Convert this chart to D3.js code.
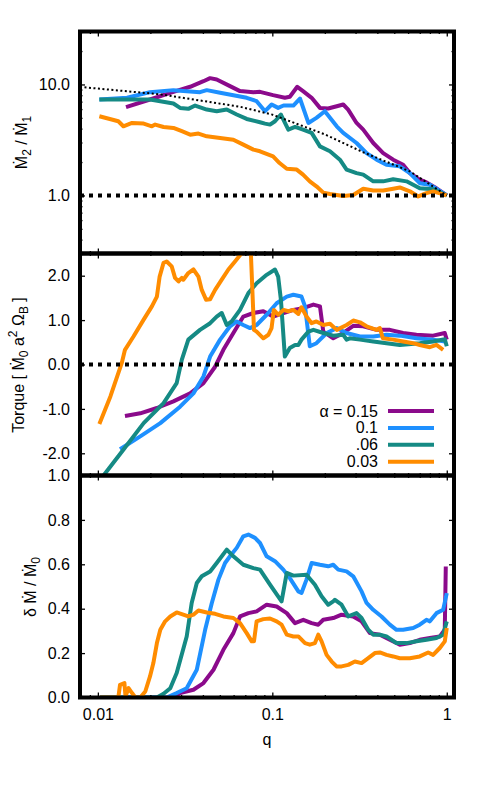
<!DOCTYPE html>
<html>
<head>
<meta charset="utf-8">
<script src="https://cdn.jsdelivr.net/npm/d3@7"></script>
<style>
body { margin: 0; background: #fff; }
text { font-family: "Liberation Sans", Arial, sans-serif; fill: #000; }
</style>
</head>
<body>
<div id="chart"></div>
<script>
// legend / series
var alphaLabels = ["\u03b1 = 0.15", "0.1", ".06", "0.03"];
var colors = ["#8b0a8b", "#1e90ff", "#158a84", "#ff8c00"];

// top panel: Mdot2 / Mdot1 against q
var ratio015 = [[0.0145,6.24],[0.0199,7.32],[0.026,8.41],[0.0338,9.53],[0.0403,10.7],[0.044,11.4],[0.048,11.1],[0.0572,9.66],[0.0653,8.71],[0.0779,8.52],[0.085,8.58],[0.101,8.01],[0.118,7.58],[0.126,7.74],[0.139,9.53],[0.15,8.71],[0.168,7.58],[0.1875,6.15],[0.209,6.07],[0.234,6.37],[0.255,6.6],[0.272,5.94],[0.304,4.5],[0.332,3.92],[0.379,2.97],[0.432,2.41],[0.493,2.1],[0.562,1.89],[0.614,1.59],[0.7,1.39],[0.765,1.31],[0.873,1.16],[1.0,1.0]];
var ratio01 = [[0.0102,7.32],[0.0147,7.58],[0.0199,8.52],[0.0271,8.89],[0.0385,8.52],[0.0421,8.89],[0.0502,8.41],[0.0713,7.58],[0.0813,7.07],[0.0908,5.74],[0.0991,6.6],[0.108,6.15],[0.116,6.46],[0.132,6.46],[0.144,7.47],[0.161,4.5],[0.179,5.0],[0.2,5.74],[0.234,4.2],[0.255,3.66],[0.304,2.97],[0.347,2.41],[0.396,2.1],[0.451,1.89],[0.538,1.83],[0.614,1.59],[0.7,1.29],[0.8,1.25],[1.0,1.0]];
var ratio006 = [[0.0102,7.32],[0.0147,7.32],[0.0199,7.32],[0.0228,7.07],[0.0271,6.73],[0.0296,6.15],[0.033,6.03],[0.0361,6.46],[0.0421,5.94],[0.048,5.74],[0.0548,5.94],[0.0625,5.36],[0.0713,4.89],[0.085,4.57],[0.0908,4.44],[0.097,4.35],[0.1036,4.66],[0.112,5.36],[0.1235,3.92],[0.135,4.14],[0.15,3.92],[0.168,3.66],[0.1875,2.77],[0.214,2.5],[0.244,2.1],[0.2665,1.71],[0.304,1.59],[0.332,1.54],[0.379,1.34],[0.432,1.34],[0.493,1.4],[0.588,1.34],[0.7,1.16],[0.835,1.14],[1.0,1.0]];
var ratio003 = [[0.0102,5.17],[0.0131,4.66],[0.014,4.2],[0.0157,4.5],[0.0183,4.44],[0.0204,4.2],[0.0213,4.35],[0.0238,4.14],[0.0271,4.06],[0.0303,3.79],[0.0338,3.53],[0.0377,3.61],[0.0421,3.41],[0.0502,3.3],[0.0598,3.18],[0.0682,2.87],[0.0779,2.59],[0.085,2.5],[0.101,2.25],[0.11,1.96],[0.121,1.74],[0.138,1.71],[0.15,1.54],[0.164,1.34],[0.179,1.21],[0.196,1.06],[0.214,1.03],[0.255,0.99],[0.291,1.01],[0.332,1.15],[0.379,1.11],[0.432,1.11],[0.493,1.15],[0.538,1.18],[0.614,1.09],[0.686,0.98],[0.765,1.05],[0.835,1.09],[1.0,1.0]];
var ratioGuide = [[0.0079,9.5],[0.0228,8.15],[0.0653,6.3],[0.1,5.35],[0.2,3.55],[0.332,2.45],[0.614,1.65],[1.0,1.0]];

// middle panel: torque
var torque015 = [[0.0143,-1.16],[0.0175,-1.1],[0.0218,-0.98],[0.0271,-0.83],[0.0338,-0.65],[0.0403,-0.42],[0.047,-0.05],[0.0524,0.33],[0.0598,0.71],[0.0682,1.08],[0.0779,1.16],[0.0888,1.2],[0.101,1.08],[0.116,1.16],[0.132,1.23],[0.15,1.27],[0.172,1.35],[0.1875,1.31],[0.196,0.74],[0.2235,0.59],[0.255,0.71],[0.291,0.87],[0.332,0.86],[0.396,0.78],[0.472,0.78],[0.562,0.71],[0.67,0.67],[0.835,0.65],[0.974,0.71],[1.0,0.56]];
var torque01 = [[0.0134,-1.91],[0.0175,-1.62],[0.0228,-1.32],[0.0296,-0.95],[0.0353,-0.65],[0.0403,-0.27],[0.044,0.18],[0.0502,0.56],[0.0572,0.86],[0.0625,0.97],[0.0682,0.89],[0.0745,0.82],[0.0813,0.89],[0.0928,1.12],[0.1059,1.38],[0.121,1.53],[0.132,1.57],[0.147,1.53],[0.154,1.31],[0.164,0.41],[0.179,0.48],[0.205,0.71],[0.234,0.82],[0.2665,0.71],[0.318,0.63],[0.379,0.63],[0.451,0.67],[0.538,0.65],[0.67,0.59],[0.835,0.56],[0.974,0.52]];
var torque006 = [[0.0103,-2.6],[0.014,-1.92],[0.0183,-1.32],[0.0238,-0.87],[0.0283,-0.42],[0.0303,0.11],[0.033,0.56],[0.0385,0.78],[0.044,0.93],[0.048,1.08],[0.0513,1.16],[0.0548,0.89],[0.0585,0.97],[0.0653,1.23],[0.0729,1.61],[0.0813,1.83],[0.0928,2.02],[0.1036,2.14],[0.108,1.98],[0.112,1.46],[0.118,0.18],[0.126,0.37],[0.135,0.44],[0.141,0.44],[0.147,0.56],[0.161,0.74],[0.172,0.78],[0.196,0.71],[0.2235,0.65],[0.255,0.67],[0.2665,0.56],[0.278,0.59],[0.318,0.56],[0.379,0.52],[0.451,0.48],[0.538,0.44],[0.7,0.48],[0.835,0.52],[0.974,0.57],[1.0,0.41]];
var torque003 = [[0.0102,-1.34],[0.0118,-0.72],[0.0137,0.03],[0.0143,0.33],[0.016,0.63],[0.0183,1.01],[0.0204,1.31],[0.0218,1.53],[0.0226,1.98],[0.0238,2.29],[0.0248,2.32],[0.0265,2.21],[0.0277,1.95],[0.029,1.87],[0.0303,1.95],[0.0309,1.91],[0.033,2.06],[0.0353,2.14],[0.0377,1.98],[0.0394,1.68],[0.0417,1.46],[0.044,1.47],[0.047,1.68],[0.0513,1.91],[0.056,2.14],[0.0611,2.32],[0.0668,2.51],[0.0713,2.66],[0.075,2.7],[0.0785,0.78],[0.0813,0.74],[0.0888,0.59],[0.095,0.67],[0.099,0.82],[0.102,1.23],[0.108,1.12],[0.116,1.23],[0.1235,1.2],[0.132,1.23],[0.141,1.14],[0.147,1.29],[0.157,1.08],[0.168,0.93],[0.179,0.97],[0.196,0.89],[0.214,0.92],[0.234,0.78],[0.2665,0.89],[0.291,0.99],[0.318,0.95],[0.347,0.86],[0.396,0.78],[0.4135,0.82],[0.43,0.59],[0.493,0.56],[0.562,0.52],[0.642,0.48],[0.7,0.44],[0.8,0.39],[0.873,0.44],[0.953,0.33]];

// bottom panel: delta Mdot / Mdot0
var dmdot015 = [[0.0145,0],[0.0271,0],[0.0296,0.02],[0.0353,0.035],[0.0403,0.065],[0.046,0.125],[0.0524,0.215],[0.0598,0.29],[0.0653,0.365],[0.0729,0.38],[0.0813,0.388],[0.0928,0.418],[0.1059,0.41],[0.121,0.38],[0.1349,0.335],[0.1505,0.35],[0.168,0.335],[0.1834,0.328],[0.1959,0.35],[0.2235,0.358],[0.2494,0.373],[0.2909,0.365],[0.3247,0.343],[0.3625,0.29],[0.4135,0.283],[0.4717,0.26],[0.5383,0.238],[0.6141,0.245],[0.7,0.26],[0.8,0.268],[0.912,0.275],[0.974,0.305],[0.987,0.59]];
var dmdot01 = [[0.0103,0],[0.0248,0],[0.0283,0.02],[0.0323,0.042],[0.0369,0.125],[0.0412,0.305],[0.045,0.426],[0.0491,0.531],[0.0536,0.606],[0.0572,0.636],[0.0625,0.674],[0.0682,0.726],[0.0729,0.734],[0.0796,0.719],[0.085,0.696],[0.0928,0.636],[0.1036,0.614],[0.1156,0.576],[0.126,0.538],[0.141,0.478],[0.147,0.471],[0.157,0.531],[0.168,0.606],[0.1875,0.598],[0.209,0.591],[0.2235,0.598],[0.2387,0.576],[0.2665,0.568],[0.2909,0.546],[0.3247,0.478],[0.347,0.426],[0.3787,0.395],[0.4227,0.365],[0.4717,0.328],[0.5151,0.305],[0.5623,0.305],[0.6417,0.313],[0.7,0.328],[0.765,0.35],[0.8,0.343],[0.873,0.38],[0.953,0.395],[1.0,0.47]];
var dmdot006 = [[0.0103,0],[0.0218,0],[0.0238,0.017],[0.026,0.042],[0.0283,0.11],[0.0323,0.275],[0.0345,0.426],[0.0369,0.516],[0.0394,0.546],[0.044,0.568],[0.048,0.606],[0.0548,0.666],[0.0598,0.636],[0.0682,0.598],[0.0779,0.583],[0.085,0.576],[0.097,0.508],[0.113,0.433],[0.121,0.561],[0.132,0.549],[0.157,0.553],[0.1755,0.508],[0.1916,0.456],[0.209,0.418],[0.2235,0.433],[0.2285,0.44],[0.2494,0.418],[0.2724,0.365],[0.304,0.38],[0.3247,0.358],[0.3546,0.305],[0.3787,0.283],[0.4135,0.283],[0.4514,0.275],[0.5151,0.245],[0.5876,0.245],[0.6706,0.253],[0.765,0.26],[0.873,0.268],[0.953,0.283],[1.0,0.343]];
var dmdot003 = [[0.0103,0],[0.0131,0],[0.0134,0.057],[0.0142,0.065],[0.0144,0.005],[0.015,0.042],[0.0157,0.02],[0.0164,0],[0.0175,0],[0.0187,0.027],[0.0199,0.095],[0.0208,0.155],[0.0218,0.245],[0.0228,0.305],[0.0243,0.343],[0.026,0.365],[0.0283,0.383],[0.033,0.365],[0.0353,0.373],[0.0377,0.392],[0.0421,0.383],[0.047,0.377],[0.0524,0.365],[0.0598,0.358],[0.0653,0.335],[0.0713,0.29],[0.0762,0.253],[0.0785,0.253],[0.0813,0.343],[0.0888,0.353],[0.097,0.356],[0.1059,0.343],[0.113,0.328],[0.121,0.283],[0.132,0.275],[0.141,0.275],[0.154,0.245],[0.164,0.238],[0.1755,0.245],[0.1834,0.283],[0.1916,0.253],[0.2047,0.192],[0.219,0.162],[0.2335,0.14],[0.2494,0.14],[0.2724,0.147],[0.2974,0.162],[0.3247,0.155],[0.3546,0.177],[0.3871,0.2],[0.4135,0.203],[0.4514,0.192],[0.4929,0.185],[0.5383,0.177],[0.6141,0.177],[0.7,0.185],[0.782,0.203],[0.835,0.192],[0.912,0.223],[0.974,0.253],[1.0,0.313]];

// ticks
var qTicks = [0.01, 0.1, 1];
var qTickLabels = ["0.01", "0.1", "1"];
var qMinor = [0.008, 0.009, 0.02, 0.03, 0.04, 0.05, 0.06, 0.07, 0.08, 0.09, 0.2, 0.3, 0.4, 0.5, 0.6, 0.7, 0.8, 0.9];
var ratioTicks = [1, 10];
var ratioTickLabels = ["1.0", "10.0"];
var ratioMinor = [0.4, 0.5, 0.6, 0.7, 0.8, 0.9, 2, 3, 4, 5, 6, 7, 8, 9, 20];
var torqueTicks = [-2, -1, 0, 1, 2];
var torqueTickLabels = ["-2.0", "-1.0", "0.0", "1.0", "2.0"];
var dmdotTicks = [0, 0.2, 0.4, 0.6, 0.8, 1.0];
var dmdotTickLabels = ["0.0", "0.2", "0.4", "0.6", "0.8", "1.0"];

var W = 485, H = 797;
var left = 80, right = 454, top0 = 31.5, ph = 222;

var svg = d3.select("#chart").append("svg")
    .attr("width", W).attr("height", H);

var x = d3.scaleLog().domain([0.0079, 1.1]).range([left, right]);

var panels = [
  { y: d3.scaleLog().domain([0.3, 30]), series: [ratio015, ratio01, ratio006, ratio003],
    ticks: ratioTicks, labels: ratioTickLabels, minor: ratioMinor, zero: 1, guide: ratioGuide },
  { y: d3.scaleLinear().domain([-2.5, 2.5]), series: [torque015, torque01, torque006, torque003],
    ticks: torqueTicks, labels: torqueTickLabels, minor: [], zero: 0 },
  { y: d3.scaleLinear().domain([0, 1]), series: [dmdot015, dmdot01, dmdot006, dmdot003],
    ticks: dmdotTicks, labels: dmdotTickLabels, minor: [] }
];

function styleAxis(g) {
  g.select(".domain").remove();
  g.selectAll("line").attr("stroke", "#000").attr("stroke-width", 1.3);
  g.selectAll("text").attr("font-size", 16).attr("font-family", "Liberation Sans, Arial, sans-serif");
}

panels.forEach(function(p, i) {
  var t = top0 + i * ph, b = t + ph;
  p.y.range([b, t]);
  var g = svg.append("g");

  g.append("clipPath").attr("id", "clip" + i)
    .append("rect").attr("x", left).attr("y", t).attr("width", right - left).attr("height", ph);

  var line = d3.line().x(function(d) { return x(d[0]); }).y(function(d) { return p.y(d[1]); });
  var plot = g.append("g").attr("clip-path", "url(#clip" + i + ")");

  p.series.forEach(function(s, k) {
    plot.append("path").datum(s)
      .attr("d", line).attr("fill", "none")
      .attr("stroke", colors[k]).attr("stroke-width", 4)
      .attr("stroke-linejoin", "round");
  });

  if (p.guide) {
    plot.append("path").datum(p.guide)
      .attr("d", line).attr("fill", "none")
      .attr("stroke", "#000").attr("stroke-width", 2)
      .attr("stroke-dasharray", "2,2.5");
  }
  if (p.zero !== undefined) {
    plot.append("path").datum([[0.0079, p.zero], [1.1, p.zero]])
      .attr("d", line).attr("fill", "none")
      .attr("stroke", "#000").attr("stroke-width", 4)
      .attr("stroke-dasharray", "4,5");
  }

  // y axes, ticks pointing inward on both sides
  g.append("g").attr("transform", "translate(" + left + ",0)")
    .call(d3.axisLeft(p.y).tickValues(p.ticks).tickSize(-5).tickPadding(10)
      .tickFormat(function(d, j) { return p.labels[j]; }))
    .call(styleAxis);
  g.append("g").attr("transform", "translate(" + right + ",0)")
    .call(d3.axisRight(p.y).tickValues(p.ticks).tickSize(-5).tickFormat(""))
    .call(styleAxis);
  if (p.minor.length) {
    g.append("g").attr("transform", "translate(" + left + ",0)")
      .call(d3.axisLeft(p.y).tickValues(p.minor).tickSize(-2.5).tickFormat(""))
      .call(styleAxis);
    g.append("g").attr("transform", "translate(" + right + ",0)")
      .call(d3.axisRight(p.y).tickValues(p.minor).tickSize(-2.5).tickFormat(""))
      .call(styleAxis);
  }

  // x axes
  var bottomAxis = d3.axisBottom(x).tickValues(qTicks).tickSize(-5).tickPadding(11)
    .tickFormat(function(d, j) { return i === 2 ? qTickLabels[j] : ""; });
  g.append("g").attr("transform", "translate(0," + b + ")").call(bottomAxis).call(styleAxis);
  g.append("g").attr("transform", "translate(0," + t + ")")
    .call(d3.axisTop(x).tickValues(qTicks).tickSize(-5).tickFormat("")).call(styleAxis);
  g.append("g").attr("transform", "translate(0," + b + ")")
    .call(d3.axisBottom(x).tickValues(qMinor).tickSize(-2.5).tickFormat("")).call(styleAxis);
  g.append("g").attr("transform", "translate(0," + t + ")")
    .call(d3.axisTop(x).tickValues(qMinor).tickSize(-2.5).tickFormat("")).call(styleAxis);

  g.append("rect").attr("x", left).attr("y", t).attr("width", right - left).attr("height", ph)
    .attr("fill", "none").attr("stroke", "#000").attr("stroke-width", 4);
});

// y titles
function ylabel(xpos, ypos, parts) {
  var txt = svg.append("text")
    .attr("transform", "translate(" + xpos + "," + ypos + ") rotate(-90)")
    .attr("text-anchor", "middle").attr("font-size", 16);
  parts.forEach(function(p) {
    var ts = txt.append("tspan").text(p[0]);
    if (p[1] === "sub") ts.attr("font-size", 12).attr("dy", 4);
    if (p[1] === "sup") ts.attr("font-size", 12).attr("dy", -7);
    if (p[2]) ts.attr("dy", p[2]);
  });
}
ylabel(27, 142.5, [["\u1E40"], ["2", "sub"], [" / \u1E40", null, -4], ["1", "sub"]]);
ylabel(24, 365, [["Torque [ \u1E40"], ["0", "sub"], [" a", null, -4], ["2", "sup"], [" \u03A9", null, 7], ["B", "sub"], [" ]", null, -4]]);
ylabel(36, 587, [["\u03B4 \u1E40 / \u1E40"], ["0", "sub"]]);

svg.append("text").attr("x", (left + right) / 2).attr("y", 745)
  .attr("text-anchor", "middle").attr("font-size", 16).text("q");

// legend
var leg = svg.append("g");
alphaLabels.forEach(function(lab, k) {
  var yy = 411 + k * 16.9;
  leg.append("text").attr("x", 378).attr("y", yy + 5.5)
    .attr("text-anchor", "end").attr("font-size", 16).text(lab);
  leg.append("line").attr("x1", 388).attr("x2", 434).attr("y1", yy).attr("y2", yy)
    .attr("stroke", colors[k]).attr("stroke-width", 4);
});
</script>
</body>
</html>
